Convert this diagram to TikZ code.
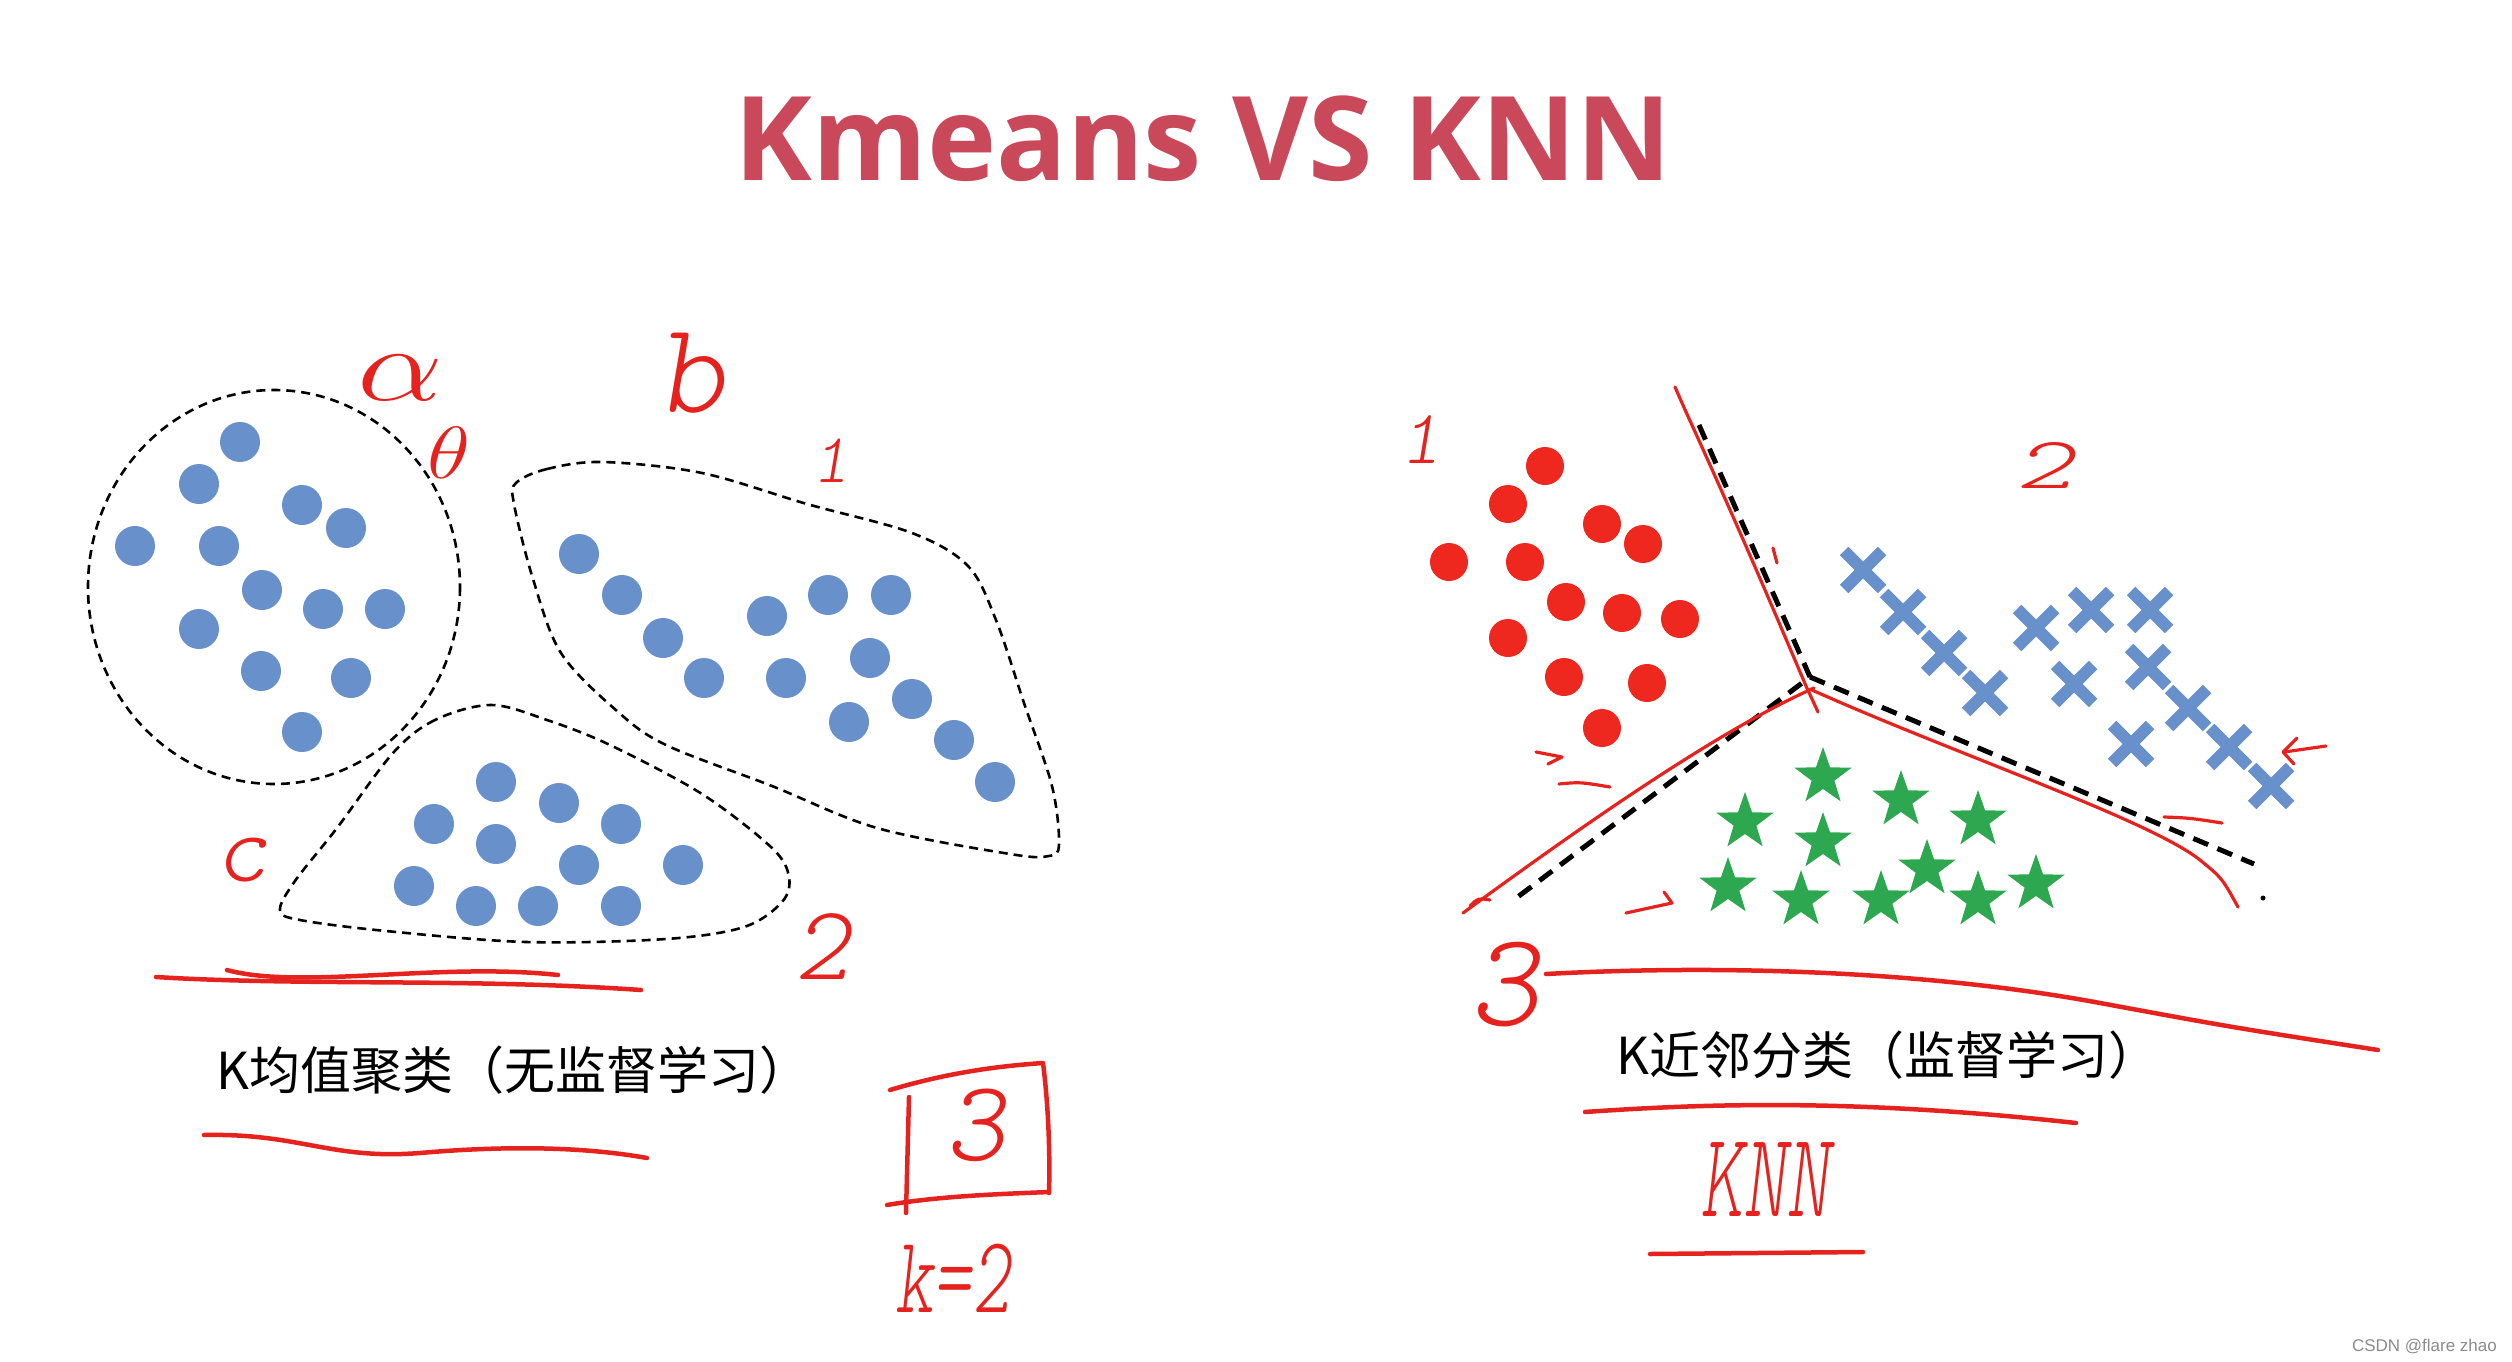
\documentclass[tikz,border=0pt]{standalone}
\usepackage{fix-cm}
\usepackage{fontspec}
\setmainfont{Open Sans}
\newfontfamily\cjk{Noto Sans CJK SC}
\newfontfamily\hand{lmmonolt10-oblique.otf}
\newfontfamily\wm{Liberation Sans}
\usetikzlibrary{shapes.geometric,shapes.misc}
\definecolor{titlered}{RGB}{201,73,91}
\definecolor{dotblue}{RGB}{104,144,202}
\definecolor{dotred}{RGB}{238,40,30}
\definecolor{stargreen}{RGB}{46,168,80}
\definecolor{hred}{RGB}{230,34,30}
\begin{document}
\begin{tikzpicture}[x=1pt,y=-1pt,
  bdot/.style={circle, fill=dotblue, minimum size=40pt, inner sep=0pt},
  rdot/.style={circle, fill=dotred, minimum size=38pt, inner sep=0pt},
  xmark/.style={cross out, draw=dotblue, line width=12pt, minimum size=26pt, inner sep=0pt},
  gstar/.style={star, star points=5, star point ratio=2.5, fill=stargreen, minimum size=60pt, inner sep=0pt},
  thindash/.style={draw=black, line width=2.6pt, dash pattern=on 9pt off 6pt},
  thickdash/.style={draw=black, line width=5pt, dash pattern=on 16pt off 10pt},
  penline/.style={draw=hred, line width=4.5pt, line cap=round, line join=round},
  thinpen/.style={draw=hred, line width=3.2pt, line cap=round, line join=round},
  hw/.style={text=hred, inner sep=0pt},
]
\useasboundingbox[fill=white] (0,0) rectangle (2512,1362);

% title
\node[font=\bfseries\fontsize{117}{126}\selectfont, text=titlered, anchor=base] (title) at (1203,181) {Kmeans VS KNN};

% ---------- left: k-means ----------
\draw[thindash] (274,587) ellipse [x radius=186, y radius=197];
\draw[thindash] plot[smooth cycle, tension=0.55] coordinates {
  (516,483) (547,469) (603,462) (702,473) (807,504) (912,533) (968,566) (996,620)
  (1024,703) (1052,786) (1059,844) (1049,856) (1010,854) (877,828) (772,786)
  (666,745) (617,711) (561,653) (533,579) (514,504)};
\draw[thindash] plot[smooth cycle, tension=0.55] coordinates {
  (491,705) (435,720) (393,753) (337,828) (295,881) (280,910) (300,920) (386,931)
  (526,942) (666,939) (744,927) (782,902) (789,877) (772,848) (702,794) (610,745) (547,720)};

\foreach \x/\y [count=\i] in {240/442,199/484,302/505,346/528,135/546,219/546,262/590,323/609,385/609,199/629,261/671,351/678,302/732}
  \node[bdot] (a\i) at (\x,\y) {};
\foreach \x/\y [count=\i] in {579/554,622/595,663/638,704/678,767/616,828/595,891/595,870/658,786/678,912/699,849/722,954/740,995/782}
  \node[bdot] (b\i) at (\x,\y) {};
\foreach \x/\y [count=\i] in {496/782,559/803,434/824,496/844,621/824,579/865,683/865,414/886,476/906,538/906,621/906}
  \node[bdot] (c\i) at (\x,\y) {};

\node[font=\cjk\fontsize{51}{60}\selectfont, anchor=base west, inner sep=0pt] (capL) at (216,1089) {K均值聚类（无监督学习）};

% handwriting left
\node[hw, font=\fontsize{105}{110}\selectfont] (la) at (400,378) {\scalebox{1.3}[1]{$\alpha$}};
\node[hw, font=\fontsize{74}{78}\selectfont] (lth) at (449,453) {\scalebox{1.2}[1]{$\theta$}};
\node[hw, font=\hand\fontsize{130}{136}\selectfont] (lb) at (691,373) {b};
\node[hw, font=\hand\fontsize{70}{74}\selectfont] (l1) at (831,461) {1};
\node[hw, font=\hand\fontsize{100}{106}\selectfont] (lc) at (242,860) {c};
\node[hw, font=\hand\fontsize{106}{112}\selectfont] (l2) at (822,947) {2};
\node[hw, font=\hand\fontsize{115}{120}\selectfont] (l3) at (976,1125) {3};
\node[hw, font=\hand\fontsize{110}{116}\selectfont] (lk) at (953,1278) {\scalebox{0.66}[1]{k=2}};

\draw[penline] (156,977) .. controls (300,986) and (470,978) .. (641,990);
\draw[penline] (227,970) .. controls (300,990) and (440,962) .. (558,975);
\draw[penline] (204,1135) .. controls (300,1133) and (330,1160) .. (420,1153) .. controls (500,1146) and (580,1146) .. (647,1158);
% box round the 3
\draw[penline] (890,1090) .. controls (950,1072) and (1000,1066) .. (1043,1063) .. controls (1049,1110) and (1050,1160) .. (1049,1193);
\draw[penline] (887,1205) .. controls (940,1196) and (1000,1194) .. (1049,1192);
\draw[penline] (909,1097) -- (906,1213);

% ---------- right: KNN ----------
\foreach \x/\y [count=\i] in {1545/466,1508/504,1602/524,1643/544,1449/562,1525/562,1566/602,1622/613,1680/619,1508/638,1564/677,1647/683,1602/728}
  \node[rdot] (r\i) at (\x,\y) {};
\foreach \x/\y [count=\i] in {1863/570,1903/612,1944/653,1985/693,2036/628,2091/610,2150/610,2074/684,2148/667,2188/708,2131/744,2229/747,2271/786}
  \node[xmark] (x\i) at (\x,\y) {};
\foreach \x/\y [count=\i] in {1823/777,1901/800,1978/820,1745/822,1823/842,1927/869,1728/887,2036/884,1801/900,1881/900,1978/900}
  \node[gstar] (s\i) at (\x,\y) {};

% boundaries
\coordinate (J) at (1810,677);
\coordinate (Jt) at (1699,425);
\coordinate (Jl) at (1511,902);
\coordinate (Jr) at (2254,864);
\coordinate (Jd) at (2263,898);
\draw[thickdash] (Jt) -- (J) -- (Jl);
\draw[thickdash] (J) -- (Jr);
\fill (Jd) circle (2.5pt);

% red traced lines
\coordinate (Rt) at (1686,412);
\coordinate (Rj) at (1806,686);
\coordinate (Rl) at (1463,913);
\coordinate (Rr) at (2238,907);
\draw[thinpen] (1675,387) -- (Rt);
\draw[thinpen] (Rt) .. controls (1740,530) and (1780,625) .. (Rj) -- (1818,712);
\draw[thinpen] (1814,688) .. controls (1720,730) and (1590,820) .. (Rl);
\draw[thinpen] (1470,906) .. controls (1478,898) .. (1490,900);
\draw[thinpen] (1812,690) .. controls (1950,752) and (2150,820) .. (2200,860) .. controls (2222,878) .. (Rr);
\draw[thinpen] (1773,548) -- (1777,563);

% handwriting right
\node[hw, font=\hand\fontsize{77}{82}\selectfont] (r1l) at (1421,440) {1};
\node[hw, font=\hand\fontsize{74}{78}\selectfont] (r2l) at (2045,465) {\scalebox{1.5}[1]{2}};
\node[hw, font=\hand\fontsize{134}{140}\selectfont] (r3l) at (1505,985) {3};
\node[font=\cjk\fontsize{51}{60}\selectfont, anchor=base west, inner sep=0pt] (capR) at (1616,1074) {K近邻分类（监督学习）};
\node[hw, font=\hand\fontsize{121}{126}\selectfont] (knn) at (1765,1180) {\scalebox{0.68}[1]{KNN}};

% small marks
\draw[thinpen] (1536,752) -- (1562,757) -- (1548,764);
\draw[thinpen] (1559,784) .. controls (1580,782) .. (1610,787);
\draw[thinpen] (1626,913) -- (1672,903) -- (1664,892);
\draw[thinpen] (2164,817) .. controls (2190,818) .. (2222,823);
\draw[thinpen] (2326,746) -- (2284,752);
\draw[thinpen] (2297,738) -- (2283,752) -- (2294,764);

% underlines
\draw[penline] (1546,974) .. controls (1750,963) and (1950,975) .. (2100,1003) .. controls (2230,1027) .. (2378,1050);
\draw[penline] (1585,1112) .. controls (1700,1104) and (1850,1098) .. (2076,1123);
\draw[penline] (1650,1254) -- (1863,1252);

% watermark
\node[font=\wm\fontsize{17}{20}\selectfont, text=black!45, anchor=base east, inner sep=0pt] (wm) at (2497,1351) {CSDN @flare zhao};
\end{tikzpicture}
\end{document}
